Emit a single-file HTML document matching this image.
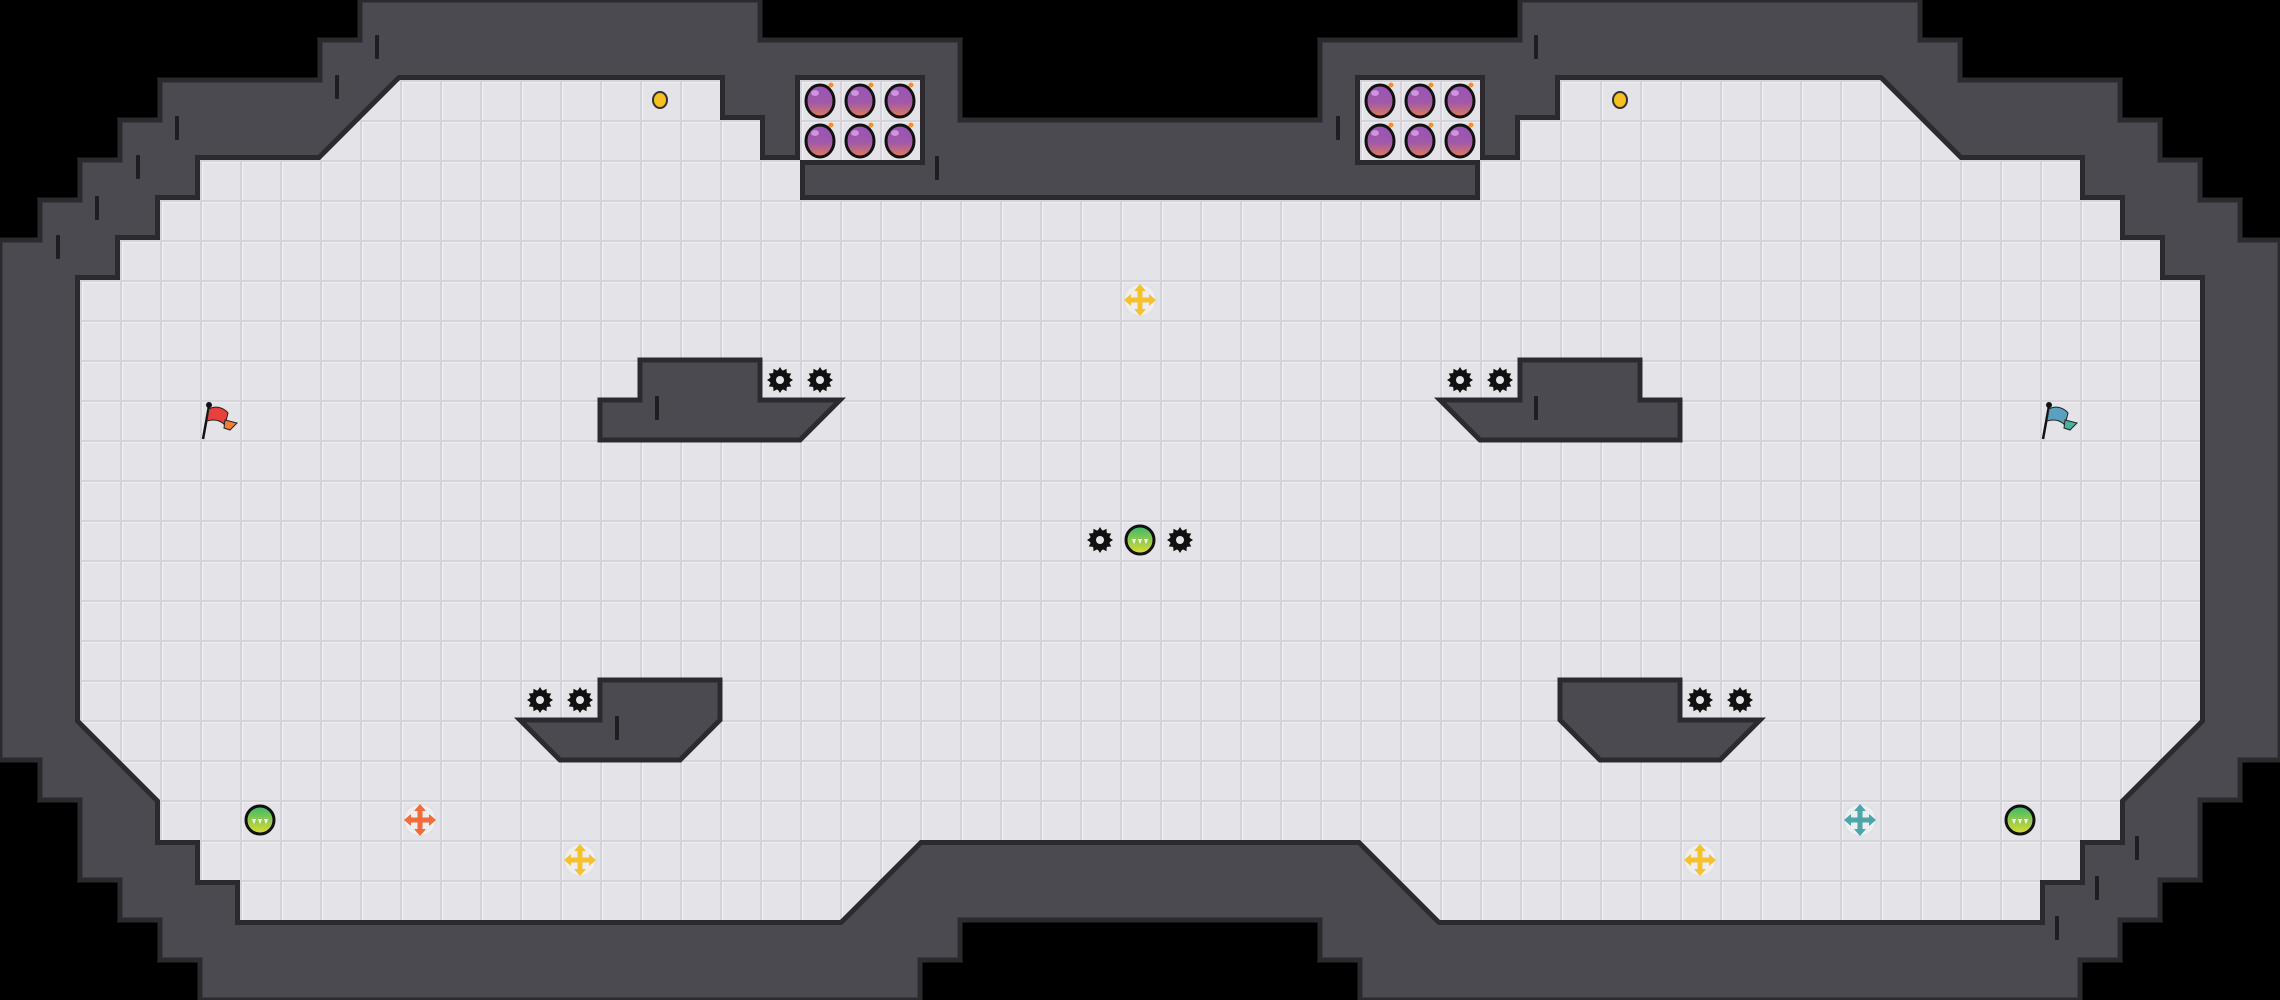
<!DOCTYPE html>
<html><head><meta charset="utf-8"><style>
html,body{margin:0;padding:0;background:#000;width:2280px;height:1000px;overflow:hidden}
svg{display:block}
</style></head><body>
<svg width="2280" height="1000" viewBox="0 0 2280 1000" xmlns="http://www.w3.org/2000/svg">
<defs>
<pattern id="grid" x="0" y="0" width="40" height="40" patternUnits="userSpaceOnUse">
<rect width="40" height="40" fill="#e3e3e8"/>
<rect x="0" y="0" width="40" height="2" fill="#d3d3d9"/>
<rect x="0" y="0" width="2" height="40" fill="#d3d3d9"/>
<rect x="2" y="2" width="38" height="1.2" fill="#eeeef2"/>
<rect x="2" y="2" width="1.2" height="38" fill="#eeeef2"/>
</pattern>
<linearGradient id="bombg" x1="0" y1="0" x2="0" y2="1">
<stop offset="0" stop-color="#9a52b8"/><stop offset="0.55" stop-color="#a05aa8"/><stop offset="1" stop-color="#e07a5a"/>
</linearGradient>
<linearGradient id="orbg" x1="0" y1="0" x2="0" y2="1">
<stop offset="0" stop-color="#3cb86a"/><stop offset="1" stop-color="#e0dc30"/>
</linearGradient>
<g id="spike">
<polygon fill="#111" points="13,0 9.18,2.46 11.26,6.5 6.72,6.72 6.5,11.26 2.46,9.18 0,13 -2.46,9.18 -6.5,11.26 -6.72,6.72 -11.26,6.5 -9.18,2.46 -13,0 -9.18,-2.46 -11.26,-6.5 -6.72,-6.72 -6.5,-11.26 -2.46,-9.18 0,-13 2.46,-9.18 6.5,-11.26 6.72,-6.72 11.26,-6.5 9.18,-2.46"/>
<circle r="10" fill="#111"/><circle r="4" fill="#e3e3e8"/>
</g>
<g id="bomb">
<ellipse cx="0" cy="1" rx="14" ry="16" fill="url(#bombg)" stroke="#111" stroke-width="3"/>
<ellipse cx="-5" cy="-7" rx="4" ry="3" fill="#e0b0ee" opacity="0.7"/>
<circle cx="11" cy="-15" r="2.5" fill="#f09030"/>
</g>
<g id="orb">
<circle r="14" fill="url(#orbg)" stroke="#111" stroke-width="3"/>
<path d="M-8,-1 L-4,-1 L-6,4 Z M-2,-1 L2,-1 L0,4 Z M4,-1 L8,-1 L6,4 Z" fill="#fff"/>
</g>
<g id="boost">
<circle r="16" fill="#eeeef1" stroke="#dcdce2" stroke-width="1"/>
<path d="M-2.5,-9 L-2.5,-2.5 L-9,-2.5 L-9,-6 L-16,0 L-9,6 L-9,2.5 L-2.5,2.5 L-2.5,9 L-6,9 L0,16 L6,9 L2.5,9 L2.5,2.5 L9,2.5 L9,6 L16,0 L9,-6 L9,-2.5 L2.5,-2.5 L2.5,-9 L6,-9 L0,-16 L-6,-9 Z"/>
</g>
</defs>

<rect width="2280" height="1000" fill="#000"/>
<polygon fill="#4b4a50" stroke="#2a2a2f" stroke-width="5" points="360,0 760,0 760,40 960,40 960,120 1320,120 1320,40 1520,40 1520,0 1920,0 1920,40 1960,40 1960,80 2120,80 2120,120 2160,120 2160,160 2200,160 2200,200 2240,200 2240,240 2280,240 2280,760 2240,760 2240,800 2200,800 2200,880 2160,880 2160,920 2120,920 2120,960 2080,960 2080,1000 1360,1000 1360,960 1320,960 1320,920 960,920 960,960 920,960 920,1000 200,1000 200,960 160,960 160,920 120,920 120,880 80,880 80,800 40,800 40,760 0,760 0,240 40,240 40,200 80,200 80,160 120,160 120,120 160,120 160,80 320,80 320,40 360,40"/>

<g>
<polygon fill="none" stroke="#2a2a2f" stroke-width="10" points="400,80 720,80 720,120 760,120 760,160 800,160 800,200 1480,200 1480,160 1520,160 1520,120 1560,120 1560,80 1880,80 1960,160 2080,160 2080,200 2120,200 2120,240 2160,240 2160,280 2200,280 2200,720 2120,800 2120,840 2080,840 2080,880 2040,880 2040,920 1440,920 1360,840 920,840 840,920 240,920 240,880 200,880 200,840 160,840 160,800 80,720 80,280 120,280 120,240 160,240 160,200 200,200 200,160 320,160"/>
<rect x="800" y="80" width="120" height="80" fill="none" stroke="#2a2a2f" stroke-width="10"/>
<rect x="1360" y="80" width="120" height="80" fill="none" stroke="#2a2a2f" stroke-width="10"/>
<polygon fill="url(#grid)" points="400,80 720,80 720,120 760,120 760,160 800,160 800,200 1480,200 1480,160 1520,160 1520,120 1560,120 1560,80 1880,80 1960,160 2080,160 2080,200 2120,200 2120,240 2160,240 2160,280 2200,280 2200,720 2120,800 2120,840 2080,840 2080,880 2040,880 2040,920 1440,920 1360,840 920,840 840,920 240,920 240,880 200,880 200,840 160,840 160,800 80,720 80,280 120,280 120,240 160,240 160,200 200,200 200,160 320,160"/>
<rect x="800" y="80" width="120" height="80" fill="url(#grid)"/>
<rect x="1360" y="80" width="120" height="80" fill="url(#grid)"/>
</g>

<g fill="#4b4a50" stroke="#2a2a2f" stroke-width="5" stroke-linejoin="miter">
<polygon points="640,360 760,360 760,400 840,400 800,440 600,440 600,400 640,400"/>
<polygon points="1640,360 1520,360 1520,400 1440,400 1480,440 1680,440 1680,400 1640,400"/>
<polygon points="600,680 720,680 720,720 680,760 560,760 520,720 600,720"/>
<polygon points="1680,680 1560,680 1560,720 1600,760 1720,760 1760,720 1680,720"/>
</g>

<g fill="#1e1e22">
<rect x="375" y="35" width="4" height="24" rx="1"/>
<rect x="335" y="75" width="4" height="24" rx="1"/>
<rect x="175" y="116" width="4" height="24" rx="1"/>
<rect x="136" y="155" width="4" height="24" rx="1"/>
<rect x="95" y="196" width="4" height="24" rx="1"/>
<rect x="56" y="235" width="4" height="24" rx="1"/>
<rect x="655" y="396" width="4" height="24" rx="1"/>
<rect x="615" y="716" width="4" height="24" rx="1"/>
<rect x="935" y="156" width="4" height="24" rx="1"/>
<rect x="1336" y="116" width="4" height="24" rx="1"/>
<rect x="1534" y="35" width="4" height="24" rx="1"/>
<rect x="1534" y="396" width="4" height="24" rx="1"/>
<rect x="2135" y="836" width="4" height="24" rx="1"/>
<rect x="2095" y="876" width="4" height="24" rx="1"/>
<rect x="2055" y="916" width="4" height="24" rx="1"/>
</g>

<use href="#bomb" x="820" y="100"/><use href="#bomb" x="860" y="100"/><use href="#bomb" x="900" y="100"/>
<use href="#bomb" x="820" y="140"/><use href="#bomb" x="860" y="140"/><use href="#bomb" x="900" y="140"/>
<use href="#bomb" x="1380" y="100"/><use href="#bomb" x="1420" y="100"/><use href="#bomb" x="1460" y="100"/>
<use href="#bomb" x="1380" y="140"/><use href="#bomb" x="1420" y="140"/><use href="#bomb" x="1460" y="140"/>

<ellipse cx="660" cy="100" rx="7" ry="8" fill="#f5c020" stroke="#333" stroke-width="2"/>
<ellipse cx="1620" cy="100" rx="7" ry="8" fill="#f5c020" stroke="#333" stroke-width="2"/>

<use href="#spike" x="780" y="380"/><use href="#spike" x="820" y="380"/>
<use href="#spike" x="1460" y="380"/><use href="#spike" x="1500" y="380"/>
<use href="#spike" x="540" y="700"/><use href="#spike" x="580" y="700"/>
<use href="#spike" x="1700" y="700"/><use href="#spike" x="1740" y="700"/>
<use href="#spike" x="1100" y="540"/><use href="#spike" x="1180" y="540"/>

<use href="#orb" x="1140" y="540"/>
<use href="#orb" x="260" y="820"/>
<use href="#orb" x="2020" y="820"/>

<use href="#boost" x="1140" y="300" fill="#f6c12e"/>
<use href="#boost" x="580" y="860" fill="#f6c12e"/>
<use href="#boost" x="1700" y="860" fill="#f6c12e"/>
<use href="#boost" x="420" y="820" fill="#f26b3a"/>
<use href="#boost" x="1860" y="820" fill="#4aa6a8"/>

<g>
<line x1="203" y1="439" x2="209" y2="406" stroke="#111" stroke-width="2.5"/>
<circle cx="209" cy="405" r="3" fill="#111"/>
<path d="M209,409 C216,405 224,408 228,413 L225,425 C220,420 214,419 207,421 Z" fill="#e8403a" stroke="#222" stroke-width="1"/>
<path d="M225,420 L237,423 L230,430 L224,428 Z" fill="#f08030" stroke="#222" stroke-width="1"/>
</g>
<g>
<line x1="2043" y1="439" x2="2049" y2="406" stroke="#111" stroke-width="2.5"/>
<circle cx="2049" cy="405" r="3" fill="#111"/>
<path d="M2049,409 C2056,405 2064,408 2068,413 L2065,425 C2060,420 2054,419 2047,421 Z" fill="#5aa0c0" stroke="#222" stroke-width="1"/>
<path d="M2065,420 L2077,423 L2070,430 L2064,428 Z" fill="#4ab0a0" stroke="#222" stroke-width="1"/>
</g>
</svg>
</body></html>
